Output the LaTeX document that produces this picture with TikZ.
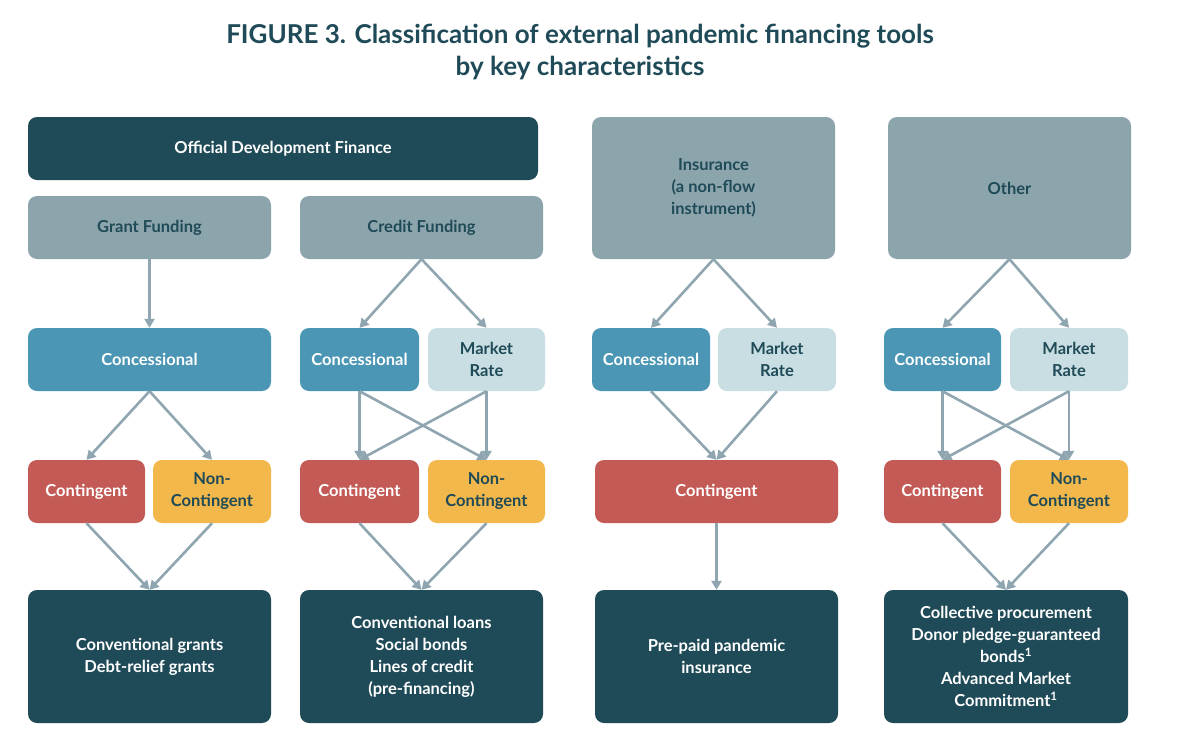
\documentclass[tikz,border=0pt]{standalone}
\usepackage{fontspec}
\setmainfont{Lato}
\usetikzlibrary{arrows.meta}
\definecolor{dark}{HTML}{1F4A57}
\definecolor{slate}{HTML}{8CA5AD}
\definecolor{conc}{HTML}{4A96B4}
\definecolor{mkt}{HTML}{C9DEE2}
\definecolor{cont}{HTML}{C45A55}
\definecolor{ncont}{HTML}{F2B84B}
\definecolor{arr}{HTML}{8FA6B0}
\begin{document}
\begin{tikzpicture}[x=1pt,y=-1pt,
 box/.style={rounded corners=9pt,align=center,inner sep=0pt,font=\fontsize{16.5}{22}\selectfont\bfseries},
 wt/.style={box,text=white},
 dk/.style={box,text=dark},
 ar/.style={draw=arr,line width=2.6pt,-{Triangle[length=9pt,width=10pt]}}]
\useasboundingbox[fill=white] (0,0) rectangle (1200,739);
\newcommand\bx[6]{\node[#1,fill=#2,minimum width=#5-#3,minimum height=#6-#4] (#1n) at ({(#3+#5)/2},{(#4+#6)/2}) {};}
\node[font=\fontsize{26}{32}\selectfont\bfseries,text=dark,align=center] (title) at (580,52) {FIGURE 3. Classification of external pandemic financing tools\\by key characteristics};
% row 1/2
\node[wt,fill=dark,minimum width=510,minimum height=63] (odf) at (283,148.5) {Official Development Finance};
\node[dk,fill=slate,minimum width=243,minimum height=63] (gf) at (149.5,227.5) {Grant Funding};
\node[dk,fill=slate,minimum width=243,minimum height=63] (cf) at (421.5,227.5) {Credit Funding};
\node[dk,fill=slate,minimum width=243,minimum height=142] (ins) at (713.5,188) {Insurance\\(a non-flow\\instrument)};
\node[dk,fill=slate,minimum width=243,minimum height=142] (oth) at (1009.5,188) {Other};
% row 3
\node[wt,fill=conc,minimum width=243,minimum height=63] (c1) at (149.5,359.5) {Concessional};
\node[wt,fill=conc,minimum width=119,minimum height=63] (c2) at (359.5,359.5) {Concessional};
\node[dk,fill=mkt,minimum width=117,minimum height=63] (m2) at (486.5,359.5) {Market\\Rate};
\node[wt,fill=conc,minimum width=118,minimum height=63] (c3) at (651,359.5) {Concessional};
\node[dk,fill=mkt,minimum width=118,minimum height=63] (m3) at (777,359.5) {Market\\Rate};
\node[wt,fill=conc,minimum width=117,minimum height=63] (c4) at (942.5,359.5) {Concessional};
\node[dk,fill=mkt,minimum width=118,minimum height=63] (m4) at (1069,359.5) {Market\\Rate};
% row 4
\node[wt,fill=cont,minimum width=117,minimum height=63] (k1) at (86.5,491.5) {Contingent};
\node[dk,fill=ncont,minimum width=118,minimum height=63] (n1) at (212,491.5) {Non-\\Contingent};
\node[wt,fill=cont,minimum width=119,minimum height=63] (k2) at (359.5,491.5) {Contingent};
\node[dk,fill=ncont,minimum width=117,minimum height=63] (n2) at (486.5,491.5) {Non-\\Contingent};
\node[wt,fill=cont,minimum width=243,minimum height=63] (k3) at (716.5,491.5) {Contingent};
\node[wt,fill=cont,minimum width=117,minimum height=63] (k4) at (942.5,491.5) {Contingent};
\node[dk,fill=ncont,minimum width=118,minimum height=63] (n4) at (1069,491.5) {Non-\\Contingent};
% row 5
\node[wt,fill=dark,minimum width=243,minimum height=133] (o1) at (149.5,656.5) {Conventional grants\\Debt-relief grants};
\node[wt,fill=dark,minimum width=243,minimum height=133] (o2) at (421.5,656.5) {Conventional loans\\Social bonds\\Lines of credit\\(pre-financing)};
\node[wt,fill=dark,minimum width=243,minimum height=133] (o3) at (716.5,656.5) {Pre-paid pandemic\\insurance};
\node[wt,fill=dark,minimum width=244,minimum height=133] (o4) at (1006,656.5) {Collective procurement\\Donor pledge-guaranteed\\bonds\textsuperscript{1}\\Advanced Market\\Commitment\textsuperscript{1}};
% arrows
\draw[ar] (gf.south) -- (c1.north);
\draw[ar] (cf.south) -- (c2.north);
\draw[ar] (cf.south) -- (m2.north);
\draw[ar] (ins.south) -- (c3.north);
\draw[ar] (ins.south) -- (m3.north);
\draw[ar] (oth.south) -- (c4.north);
\draw[ar] (oth.south) -- (m4.north);
\draw[ar] (c1.south) -- (k1.north);
\draw[ar] (c1.south) -- (n1.north);
\foreach \a in {c2,m2}{\foreach \b in {k2,n2}{\draw[ar] (\a.south) -- (\b.north);}}
\foreach \a in {c4,m4}{\foreach \b in {k4,n4}{\draw[ar] (\a.south) -- (\b.north);}}
\draw[ar] (c3.south) -- (k3.north);
\draw[ar] (m3.south) -- (k3.north);
\draw[ar] (k1.south) -- (o1.north);
\draw[ar] (n1.south) -- (o1.north);
\draw[ar] (k2.south) -- (o2.north);
\draw[ar] (n2.south) -- (o2.north);
\draw[ar] (k3.south) -- (o3.north);
\draw[ar] (k4.south) -- (o4.north);
\draw[ar] (n4.south) -- (o4.north);
\end{tikzpicture}
\end{document}
